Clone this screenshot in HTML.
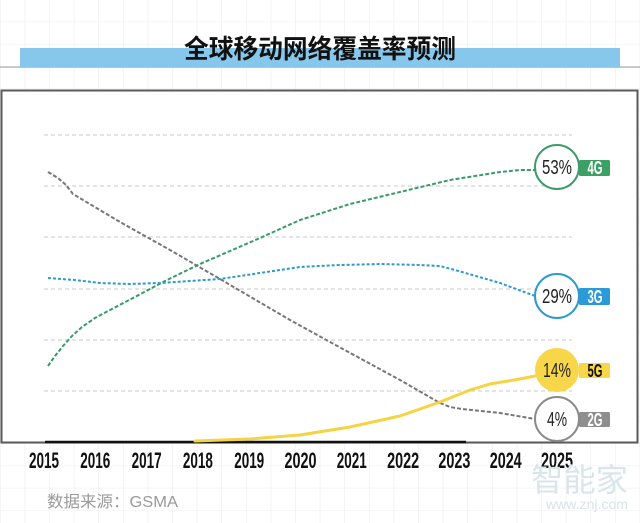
<!DOCTYPE html>
<html><head><meta charset="utf-8"><style>
html,body{margin:0;padding:0;background:#fff;}
body{width:640px;height:523px;overflow:hidden;}
svg{display:block;}
</style></head><body>
<svg width="640" height="523" viewBox="0 0 640 523" xmlns="http://www.w3.org/2000/svg">
<defs>
<pattern id="g" x="0.6" y="0" width="24.6" height="22.2" patternUnits="userSpaceOnUse">
<rect x="24" y="0" width="1" height="22.2" fill="#ececec"/>
<rect x="0" y="21.6" width="24.6" height="1" fill="#efefef"/>
</pattern>
</defs>
<rect width="640" height="523" fill="#fff"/>
<rect width="640" height="523" fill="url(#g)"/>
<!-- title bar -->
<rect x="0" y="66.5" width="640" height="1.2" fill="#a8a8a8"/>
<rect x="20" y="48" width="600" height="19" fill="#87c7eb"/>
<text x="320" y="58" text-anchor="middle" font-family="'Liberation Sans','Noto Sans CJK SC',sans-serif" font-size="26" font-weight="bold" fill="#111" textLength="272" lengthAdjust="spacingAndGlyphs">全球移动网络覆盖率预测</text>
<!-- chart box -->
<rect x="1.5" y="90.5" width="636" height="352" fill="#fff" stroke="#5a5a5a" stroke-width="2"/>
<!-- gridlines -->
<g stroke="#c8c8c8" stroke-width="1" stroke-dasharray="4 3">
<line x1="44" y1="135" x2="572" y2="135"/>
<line x1="44" y1="186" x2="572" y2="186"/>
<line x1="44" y1="237" x2="572" y2="237"/>
<line x1="44" y1="289" x2="572" y2="289"/>
<line x1="44" y1="340" x2="572" y2="340"/>
<line x1="44" y1="391" x2="572" y2="391"/>
</g>
<line x1="45" y1="442" x2="466" y2="442" stroke="#111" stroke-width="2.5"/>
<!-- 2G -->
<polyline fill="none" stroke="#777" stroke-width="2" stroke-dasharray="4 2" stroke-linejoin="round"
points="48,172 58,178 66,185 73,194 120,222 170,250 220,279 290,320 330,342 400,380 440,403 450,407 462,409 500,413 535,419"/>
<!-- 4G -->
<polyline fill="none" stroke="#3a9a68" stroke-width="2" stroke-dasharray="4 2" stroke-linejoin="round"
points="48,366 55,356 63,346 72,336 82,327 95,318 110,310 133,298 165,281 200,264 230,251 260,238 300,220 350,204 400,192 450,180 500,172 520,170 535,170"/>
<!-- 3G -->
<polyline fill="none" stroke="#2c9acb" stroke-width="2" stroke-dasharray="3 2" stroke-linejoin="round"
points="48,278 75,280 100,283 130,284 160,283 190,281 220,279 260,273 300,267 340,265 380,264 420,265 440,266 455,270 500,283 535,296"/>
<!-- 5G -->
<polyline fill="none" stroke="#f5d443" stroke-width="3" stroke-linejoin="round" stroke-linecap="round"
points="195,441 250,439 300,435 350,427 400,416 440,402 470,390 490,384 520,379 535,376"/>
<!-- markers -->
<g font-family="'Liberation Sans Narrow','Liberation Sans',sans-serif">
<rect x="579" y="160" width="31" height="16" rx="1.5" fill="#3aa064"/>
<circle cx="557" cy="167" r="22" fill="#fff" stroke="#3f9a6c" stroke-width="2"/>
<text x="557" y="174" text-anchor="middle" font-size="20" fill="#222" textLength="30" lengthAdjust="spacingAndGlyphs">53%</text>
<text x="595" y="174" text-anchor="middle" font-size="18" font-weight="bold" fill="#fff" textLength="15" lengthAdjust="spacingAndGlyphs">4G</text>

<rect x="579" y="288" width="31" height="17" rx="1.5" fill="#2c9ad6"/>
<circle cx="557" cy="296" r="22" fill="#fff" stroke="#2c9acb" stroke-width="2"/>
<text x="557" y="303" text-anchor="middle" font-size="20" fill="#222" textLength="30" lengthAdjust="spacingAndGlyphs">29%</text>
<text x="595" y="303" text-anchor="middle" font-size="18" font-weight="bold" fill="#fff" textLength="15" lengthAdjust="spacingAndGlyphs">3G</text>

<rect x="579" y="363" width="31" height="15" rx="1.5" fill="#f7d64a"/>
<circle cx="557" cy="370" r="22" fill="#f7d64a"/>
<text x="557" y="377" text-anchor="middle" font-size="20" fill="#222" textLength="28" lengthAdjust="spacingAndGlyphs">14%</text>
<text x="595" y="377" text-anchor="middle" font-size="18" font-weight="bold" fill="#111" textLength="15" lengthAdjust="spacingAndGlyphs">5G</text>

<rect x="579" y="412" width="31" height="15" rx="1.5" fill="#8e8e8e"/>
<circle cx="557" cy="419" r="22" fill="#fff" stroke="#8a8a8a" stroke-width="2"/>
<text x="557" y="426" text-anchor="middle" font-size="20" fill="#222" textLength="20" lengthAdjust="spacingAndGlyphs">4%</text>
<text x="595" y="426" text-anchor="middle" font-size="18" font-weight="bold" fill="#fff" textLength="15" lengthAdjust="spacingAndGlyphs">2G</text>
</g>
<!-- year labels -->
<g font-family="'Liberation Sans Narrow','Liberation Sans',sans-serif" font-size="22" font-weight="bold" fill="#111" text-anchor="middle">
<text x="44" y="468" textLength="30" lengthAdjust="spacingAndGlyphs">2015</text>
<text x="95.3" y="468" textLength="30" lengthAdjust="spacingAndGlyphs">2016</text>
<text x="146.6" y="468" textLength="30" lengthAdjust="spacingAndGlyphs">2017</text>
<text x="197.9" y="468" textLength="30" lengthAdjust="spacingAndGlyphs">2018</text>
<text x="249.2" y="468" textLength="30" lengthAdjust="spacingAndGlyphs">2019</text>
<text x="300.5" y="468" textLength="32" lengthAdjust="spacingAndGlyphs">2020</text>
<text x="351.8" y="468" textLength="30" lengthAdjust="spacingAndGlyphs">2021</text>
<text x="403.1" y="468" textLength="32" lengthAdjust="spacingAndGlyphs">2022</text>
<text x="454.4" y="468" textLength="32" lengthAdjust="spacingAndGlyphs">2023</text>
<text x="505.7" y="468" textLength="32" lengthAdjust="spacingAndGlyphs">2024</text>
<text x="557" y="468" textLength="32" lengthAdjust="spacingAndGlyphs">2025</text>
</g>
<!-- source -->
<text x="47" y="507" font-family="'Liberation Sans','Noto Sans CJK SC',sans-serif" font-size="16" fill="#9a9a9a" textLength="131" lengthAdjust="spacingAndGlyphs">数据来源：GSMA</text>
<!-- watermark -->
<text x="531" y="491" font-family="'Liberation Sans','Noto Sans CJK SC',sans-serif" font-size="32" fill="#d9e6e9" textLength="97" lengthAdjust="spacingAndGlyphs">智能家</text>
<text x="546" y="509" font-family="'Liberation Sans',sans-serif" font-size="14" fill="#d9e3e6" textLength="82" lengthAdjust="spacingAndGlyphs">www.znj.com</text>
</svg>
</body></html>
